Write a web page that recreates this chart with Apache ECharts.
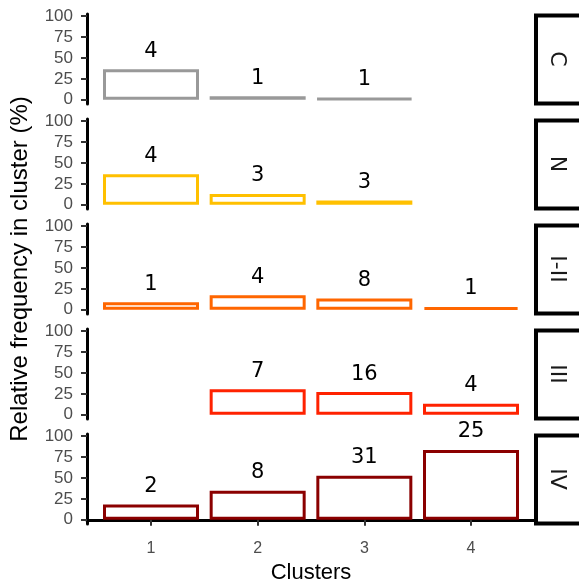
<!DOCTYPE html>
<html>
<head>
<meta charset="utf-8">
<script src="https://cdn.jsdelivr.net/npm/echarts@6/dist/echarts.min.js"></script>
<style>
html,body{margin:0;padding:0;background:#fff;}
#c{width:579px;height:584px;}
</style>
</head>
<body>
<div id="c"></div>
<script>
// ---- data ----
var clusters = [1, 2, 3, 4];
var stages = ['C', 'N', 'I-II', 'III', 'IV'];
var yTicks = [0, 25, 50, 75, 100];
// counts per stage (label shown above bar), null = no bar
var countsC   = [4, 1, 1, null];
var countsN   = [4, 3, 3, null];
var countsI   = [1, 4, 8, 1];
var countsIII = [null, 7, 16, 4];
var countsIV  = [2, 8, 31, 25];
// relative frequency in cluster (%)
var pctC   = [36.4, 4.3, 1.7, null];
var pctN   = [36.4, 13.0, 5.1, null];
var pctI   = [9.1, 17.4, 13.6, 3.3];
var pctIII = [null, 30.4, 27.1, 13.3];
var pctIV  = [18.2, 34.8, 52.5, 83.3];

var colors = ['#999999', '#FFC000', '#FF6600', '#FF2200', '#8B0000'];
var allCounts = [countsC, countsN, countsI, countsIII, countsIV];
var allPct = [pctC, pctN, pctI, pctIII, pctIV];

// ---- layout ----
var gLeft = 87, gWidth = 448, top0 = 14, step = 105, gH = 90;

var grids = [], xAxes = [], yAxes = [], series = [], graphics = [];
stages.forEach(function (st, i) {
  var top = top0 + step * i;
  var last = (i === stages.length - 1);
  grids.push({ left: gLeft, top: top, width: gWidth, height: gH, containLabel: false, outerBoundsMode: 'none' });
  xAxes.push({
    type: 'value', gridIndex: i, min: 0.4, max: 4.6,
    show: last,
    splitLine: { show: false },
    axisLine: { show: last, lineStyle: { color: '#000', width: 3 } },
    axisTick: { show: last, customValues: clusters, length: 6, lineStyle: { color: '#333', width: 2 } },
    axisLabel: { show: last, customValues: clusters, margin: 17, color: '#4d4d4d',
      fontFamily: 'Liberation Sans', fontSize: 16,
      formatter: function (v) { return String(v); } },
    name: last ? 'Clusters' : '',
    nameLocation: 'middle', nameGap: 38,
    nameTextStyle: { fontFamily: 'Liberation Sans', fontSize: 22, color: '#000' }
  });
  yAxes.push({
    type: 'value', gridIndex: i, min: -5, max: 102.4,
    splitLine: { show: false },
    axisLine: { show: true, lineStyle: { color: '#000', width: 3 } },
    axisTick: { show: true, customValues: yTicks, length: 6, lineStyle: { color: '#333', width: 2 } },
    axisLabel: { customValues: yTicks, margin: 14, color: '#4d4d4d',
      fontFamily: 'Liberation Sans', fontSize: 17 },
    name: i === 2 ? 'Relative frequency in cluster (%)' : '',
    nameLocation: 'middle', nameGap: 55,
    nameTextStyle: { fontFamily: 'Liberation Sans', fontSize: 24, color: '#000' }
  });
  var data = [];
  clusters.forEach(function (c, j) {
    if (allPct[i][j] !== null) {
      data.push({ value: [c, allPct[i][j]], cnt: allCounts[i][j] });
    }
  });
  series.push({
    type: 'bar', xAxisIndex: i, yAxisIndex: i,
    barWidth: 96,
    data: data,
    itemStyle: { color: 'rgba(255,255,255,0)', borderColor: colors[i], borderWidth: 3 },
    label: {
      show: true, position: 'top', distance: 7,
      fontFamily: 'DejaVu Sans', fontSize: 21, color: '#000', lineHeight: 22,
      formatter: function (p) { return String(p.data.cnt); }
    },
    silent: true,
    animation: false
  });
  // facet strip
  graphics.push({
    type: 'rect',
    shape: { x: 536, y: top + 1.5, width: 60, height: gH - 2 },
    style: { fill: '#fff', stroke: '#000', lineWidth: 4 }
  });
  graphics.push({
    type: 'text',
    x: 557, y: top + gH / 2,
    rotation: -Math.PI / 2,
    style: { text: st, fill: '#1a1a1a', font: '22px "DejaVu Sans"', align: 'center', verticalAlign: 'middle' }
  });
});

var chart = echarts.init(document.getElementById('c'), null, { renderer: 'canvas' });
chart.setOption({
  backgroundColor: '#fff',
  animation: false,
  grid: grids,
  xAxis: xAxes,
  yAxis: yAxes,
  series: series,
  graphic: graphics
});
</script>
</body>
</html>
